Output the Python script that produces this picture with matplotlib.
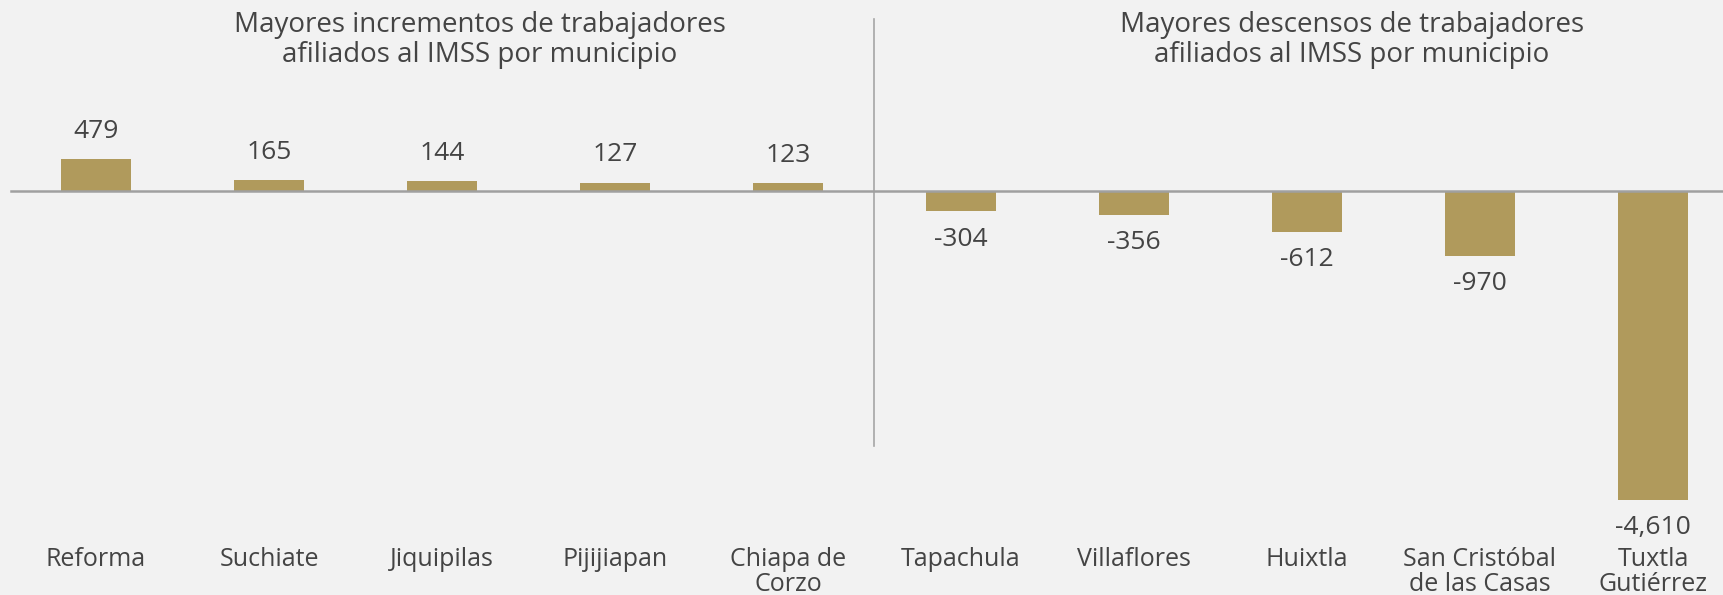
import matplotlib.pyplot as plt

# datos
municipios = ['Reforma', 'Suchiate', 'Jiquipilas', 'Pijijiapan', 'Chiapa de\nCorzo',
              'Tapachula', 'Villaflores', 'Huixtla', 'San Cristóbal\nde las Casas', 'Tuxtla\nGutiérrez']
variacion = [479, 165, 144, 127, 123, -304, -356, -612, -970, -4610]
titulo_incrementos = 'Mayores incrementos de trabajadores\nafiliados al IMSS por municipio'
titulo_descensos = 'Mayores descensos de trabajadores\nafiliados al IMSS por municipio'

fondo = '#f2f2f2'
dorado = '#b09a5c'
texto = '#444444'

plt.rcParams['font.family'] = ['Open Sans', 'DejaVu Sans']

fig = plt.figure(figsize=(17.23, 5.95), dpi=100, facecolor=fondo)
ax = fig.add_axes([0, 0.109, 1, 0.891])
ax.set_facecolor(fondo)

x = list(range(len(municipios)))
ax.bar(x, variacion, width=0.4, color=dorado, zorder=2)

# etiquetas de valores
for xi, v in zip(x, variacion):
    off = 20 if v > 0 else -20
    ax.annotate(f'{v:,}', (xi, v), xytext=(0, off), textcoords='offset points',
                ha='center', va='center', fontsize=19, color=texto)

ax.set_xlim(-0.555, 9.405)
ax.set_ylim(-5060, 2851)

# linea base y divisor
ax.axhline(0, xmin=11 / 1723, color='#a0a0a0', lw=1.8, zorder=3)
ax.axvline(4.5, ymin=0.158, ymax=0.964, color='#a6a6a6', lw=1.2)

ax.set_xticks(x)
ax.set_xticklabels(municipios, fontsize=18, color=texto, linespacing=1.0)
ax.tick_params(axis='x', length=0, pad=12)
ax.set_yticks([])
for s in ax.spines.values():
    s.set_visible(False)

fig.text(480 / 1723, 0.933, titulo_incrementos, ha='center', va='center',
         fontsize=20, color=texto, linespacing=1.12)
fig.text(1352 / 1723, 0.933, titulo_descensos, ha='center', va='center',
         fontsize=20, color=texto, linespacing=1.12)

fig.savefig('out.png', dpi=100, facecolor=fondo)
